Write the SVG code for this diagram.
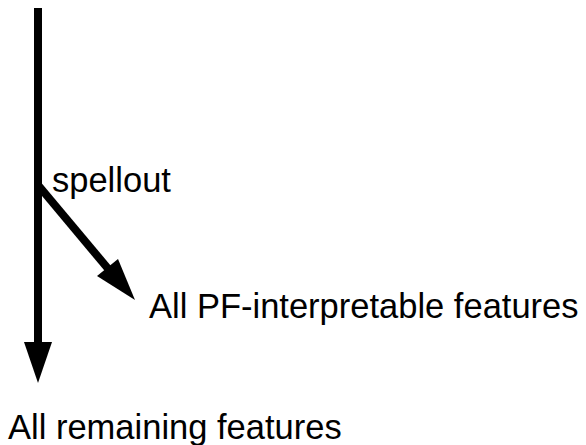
<svg xmlns="http://www.w3.org/2000/svg" width="586" height="445" viewBox="0 0 586 445">
  <style>
    .lbl { font-family: "Liberation Sans", Arial, sans-serif; font-size: 34.5px; fill: #000; }
    .edge { stroke: #000; stroke-width: 8; fill: none; }
  </style>
  <rect width="586" height="445" fill="#fff"/>
  <g id="connectors">
    <!-- main derivation line -->
    <line class="edge" x1="38" y1="8" x2="38" y2="345"/>
    <polygon points="24,342 52,342 38,383" fill="#000"/>
    <!-- spellout branch -->
    <line class="edge" x1="38" y1="185" x2="110" y2="271"/>
    <polygon points="97,276 118,259 135,300" fill="#000"/>
  </g>
  <g id="spellout">
    <text class="lbl" x="52" y="192">spellout</text>
  </g>
  <g id="pf-features">
    <text class="lbl" x="149" y="318">All PF-interpretable features</text>
  </g>
  <g id="remaining-features">
    <text class="lbl" x="8" y="439">All remaining features</text>
  </g>
</svg>
